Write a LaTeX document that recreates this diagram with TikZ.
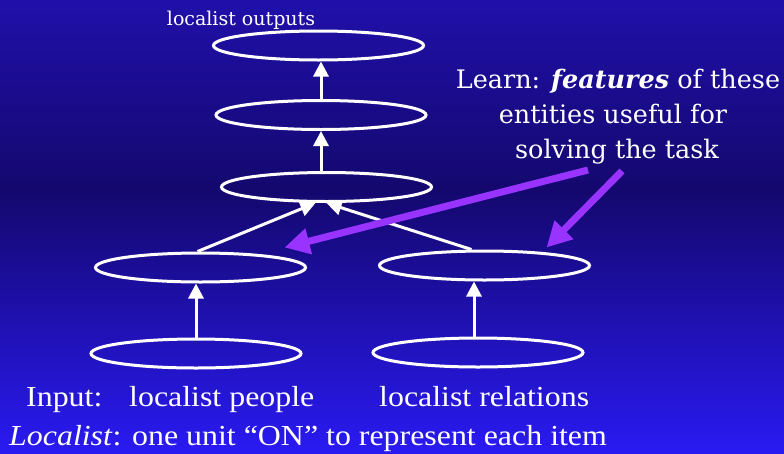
\documentclass[tikz,border=0pt]{standalone}
\usepackage{fontspec}
\setmainfont{Liberation Serif}
\newfontfamily\geo{DejaVu Serif}
\newfontfamily\wide[FakeStretch=1.1]{Liberation Serif}
\usetikzlibrary{arrows.meta,calc,shapes.geometric}
\definecolor{bgtop}{RGB}{32,16,170}
\definecolor{bgmid}{RGB}{20,8,110}
\definecolor{bgbot}{RGB}{42,26,242}
\definecolor{violet}{RGB}{153,51,255}
\tikzset{
  unit/.style={ellipse, draw=white, line width=3pt, inner sep=0pt,
    minimum width=210pt, minimum height=29pt},
  link/.style={draw=white, line width=3pt, -{Triangle[width=15pt,length=15pt]}},
  hint/.style={draw=violet, line width=7pt, -{Triangle[width=25pt,length=25pt]}},
  label/.style={text=white, inner sep=0pt},
  big/.style={font=\wide\fontsize{29}{34}\selectfont},
  note/.style={font=\geo\fontsize{25.5}{30}\selectfont},
}
\begin{document}
\begin{tikzpicture}[x=1pt,y=-1pt]
\useasboundingbox (0,0) rectangle (784,453);
\shade[top color=bgtop, bottom color=bgmid] (0,0) rectangle (784,190);
\shade[top color=bgmid, bottom color=bgbot] (0,189.5) rectangle (784,453);

\node[unit] (e1) at (318.5,45.5) {};
\node[unit] (e2) at (321,115) {};
\node[unit] (e3) at (326.5,187) {};
\node[unit] (e4) at (200.5,267.5) {};
\node[unit] (e5) at (484.5,265.5) {};
\node[unit] (e6) at (196,353.5) {};
\node[unit] (e7) at (478,352.5) {};

\draw[link] (e2.north) -- (e2.north |- e1.south);
\draw[link] (e2.south |- e3.north) -- (e2.south);
\draw[link] ($(e4.north)+(-3,0)$) -- ($(e3.south)+(-11,0)$);
\draw[link] ($(e5.north)+(-13,0)$) -- (e3.south);
\draw[link] (e6.north) -- (e6.north |- e4.south);
\draw[link] ($(e7.north)+(-4,0)$) -- ($(e7.north |- e5.south)+(-4,0)$);

\coordinate (h1) at (588,170);
\coordinate (h2) at (622,171);
\draw[hint] (h1) -- ($(e4.center)+(84,-20)$);
\draw[hint] (h2) -- ($(e5.center)+(62,-18)$);

\node[label, anchor=base, font=\geo\fontsize{19}{22}\selectfont] (out) at (241,25) {localist outputs};
\node[label, anchor=base, note] (l1) at (618,88) {Learn: \textbf{\textit{features}} of these};
\node[label, anchor=base, note] (l2) at (613,123) {entities useful for};
\node[label, anchor=base, note] (l3) at (617,158) {solving the task};

\node[label, anchor=base west, big] (in) at (26,406) {Input:};
\node[label, anchor=base west, big] (lp) at (129,406) {localist people};
\node[label, anchor=base west, big] (lr) at (379,406) {localist relations};
\node[label, anchor=base west, big] (def) at (9,445) {\textit{Localist}: one unit “ON” to represent each item};
\end{tikzpicture}
\end{document}
